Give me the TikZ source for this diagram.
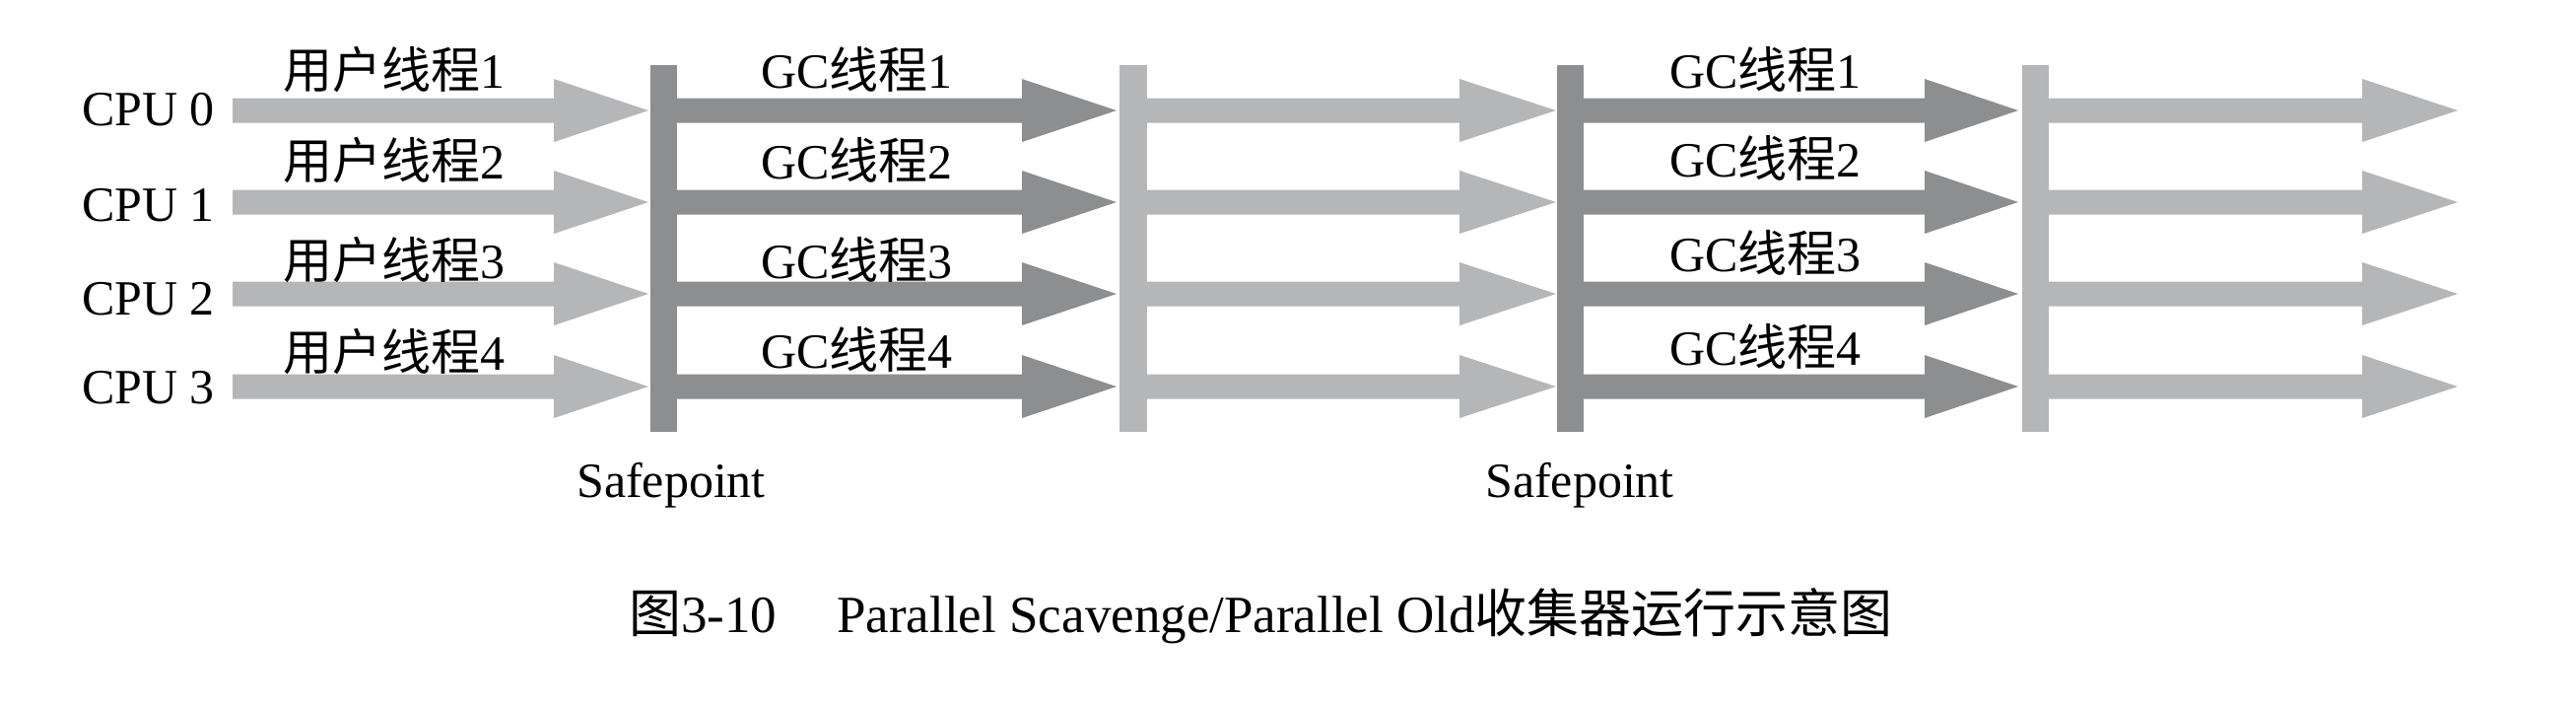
\documentclass[tikz,border=0pt]{standalone}
\usepackage{fontspec}
\setmainfont{Liberation Serif}
\newfontfamily\cjk{Noto Sans CJK SC}
\definecolor{lightg}{HTML}{B4B6B8}
\definecolor{darkg}{HTML}{8C8E90}
% #1 colour, #2 x start, #3 head base, #4 tip, #5 y centre
\newcommand\fatarr[5]{%
  \fill[#1] (#2,#5-12.5) -- (#3,#5-12.5) -- (#3,#5-32) -- (#4,#5) -- (#3,#5+32) -- (#3,#5+12.5) -- (#2,#5+12.5) -- cycle;}
\begin{document}
\begin{tikzpicture}[x=1pt,y=-1pt,
  lbl/.style={anchor=base west,inner sep=0pt,font=\fontsize{50}{60}\selectfont},
  bar/.style={fill=#1}]
\useasboundingbox (0,0) rectangle (2614,716);
% bars
\fill[darkg]  (660,66)  rectangle (687,438);
\fill[lightg] (1136,66) rectangle (1164,438);
\fill[darkg]  (1580,66) rectangle (1607,438);
\fill[lightg] (2052,66) rectangle (2079,438);
% arrows
\foreach \yy in {112,205,298,392}{
  \fatarr{lightg}{236}{562}{658}{\yy}
  \fatarr{darkg}{687}{1037}{1133}{\yy}
  \fatarr{lightg}{1164}{1481}{1579}{\yy}
  \fatarr{darkg}{1607}{1953}{2048}{\yy}
  \fatarr{lightg}{2079}{2397}{2494}{\yy}
}
% CPU labels
\node[lbl] (cpu0) at (83,127) {CPU 0};
\node[lbl] (cpu1) at (83,224) {CPU 1};
\node[lbl] (cpu2) at (83,319) {CPU 2};
\node[lbl] (cpu3) at (83,409) {CPU 3};
% user thread labels
\node[lbl] (u1) at (287,89)  {{\cjk 用户线程}1};
\node[lbl] (u2) at (287,181) {{\cjk 用户线程}2};
\node[lbl] (u3) at (287,282) {{\cjk 用户线程}3};
\node[lbl] (u4) at (287,375) {{\cjk 用户线程}4};
% GC labels, first phase
\node[lbl] (ga1) at (772,89)  {GC{\cjk 线程}1};
\node[lbl] (ga2) at (772,181) {GC{\cjk 线程}2};
\node[lbl] (ga3) at (772,282) {GC{\cjk 线程}3};
\node[lbl] (ga4) at (772,373) {GC{\cjk 线程}4};
% GC labels, second phase
\node[lbl] (gb1) at (1694,89)  {GC{\cjk 线程}1};
\node[lbl] (gb2) at (1694,179) {GC{\cjk 线程}2};
\node[lbl] (gb3) at (1694,275) {GC{\cjk 线程}3};
\node[lbl] (gb4) at (1694,370) {GC{\cjk 线程}4};
% safepoints
\node[lbl] (sp1) at (585,504)  {Safepoint};
\node[lbl] (sp2) at (1507,504) {Safepoint};
% caption
\node[lbl,font=\fontsize{53}{60}\selectfont] (cap) at (638,641)
  {{\cjk 图}3-10\hspace{61pt}Parallel Scavenge/Parallel Old{\cjk 收集器运行示意图}};
\end{tikzpicture}
\end{document}
